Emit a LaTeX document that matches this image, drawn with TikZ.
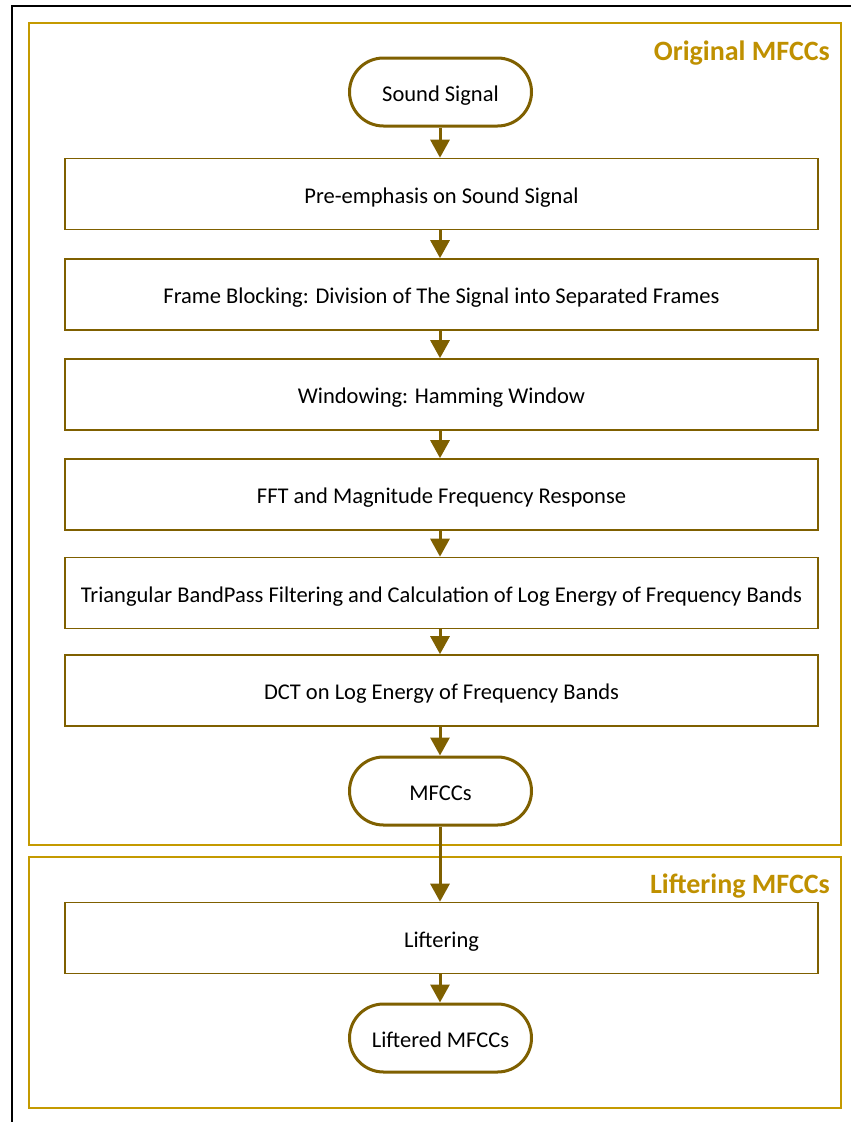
\documentclass[tikz,border=0pt]{standalone}
\usepackage{fontspec}
\setmainfont{Carlito}
\usetikzlibrary{arrows.meta}
\definecolor{frameGold}{HTML}{C49A00}
\definecolor{titleGold}{HTML}{BF9000}
\definecolor{boxBrown}{HTML}{7F6000}
\tikzset{
  procbox/.style={draw=boxBrown, line width=1.6pt, fill=white, minimum width=753pt, minimum height=71pt, inner sep=0pt, text height=18pt, text depth=0pt, font=\fontsize{22.5}{26}\selectfont},
  termbox/.style={draw=boxBrown, line width=3pt, fill=white, rounded corners=34pt, minimum width=182pt, minimum height=68pt, inner sep=0pt, text height=18pt, text depth=0pt, font=\fontsize{22.5}{26}\selectfont},
  frame/.style={draw=frameGold, line width=2.5pt},
  ftitle/.style={text=titleGold, font=\bfseries\fontsize{28}{32}\selectfont, anchor=east, inner sep=0pt},
  flow/.style={draw=boxBrown, line width=3pt, -{Triangle[length=18pt, width=19pt]}}
}
\begin{document}
\begin{tikzpicture}[x=1pt, y=-1pt]
\useasboundingbox (0,0) rectangle (851,1122);
% outer black frame (left and top)
\draw[black, line width=2.5pt] (12,1122) -- (12,6) -- (851,6);
% gold frames
\draw[frame] (29,23) rectangle (841,845);
\draw[frame] (29,857) rectangle (841,1108);
\node[ftitle] (t1) at (830,53) {Original MFCCs};
\node[ftitle] (t2) at (830,886) {Liftering MFCCs};
% nodes
\node[termbox] (s) at (440.5,92) {Sound Signal};
\node[procbox] (b1) at (441.5,194) {Pre-emphasis on Sound Signal};
\node[procbox] (b2) at (441.5,294.5) {Frame Blocking: Division of The Signal into Separated Frames};
\node[procbox] (b3) at (441.5,394.5) {Windowing: Hamming Window};
\node[procbox] (b4) at (441.5,494.5) {FFT and Magnitude Frequency Response};
\node[procbox] (b5) at (441.5,593) {Triangular BandPass Filtering and Calculation of Log Energy of Frequency Bands};
\node[procbox] (b6) at (441.5,690.5) {DCT on Log Energy of Frequency Bands};
\node[termbox] (m) at (440.5,791) {MFCCs};
\node[procbox] (l) at (441.5,938) {Liftering};
\node[termbox] (lm) at (440.5,1038) {Liftered MFCCs};
% arrows
\draw[flow] (s.south -| 440,0) -- (b1.north -| 440,0);
\draw[flow] (b1.south -| 440,0) -- (b2.north -| 440,0);
\draw[flow] (b2.south -| 440,0) -- (b3.north -| 440,0);
\draw[flow] (b3.south -| 440,0) -- (b4.north -| 440,0);
\draw[flow] (b4.south -| 440,0) -- (b5.north -| 440,0);
\draw[flow] (b5.south -| 440,0) -- (b6.north -| 440,0);
\draw[flow] (b6.south -| 440,0) -- (m.north -| 440,0);
\draw[flow] (m.south -| 440,0) -- (l.north -| 440,0);
\draw[flow] (l.south -| 440,0) -- (lm.north -| 440,0);
\end{tikzpicture}
\end{document}
